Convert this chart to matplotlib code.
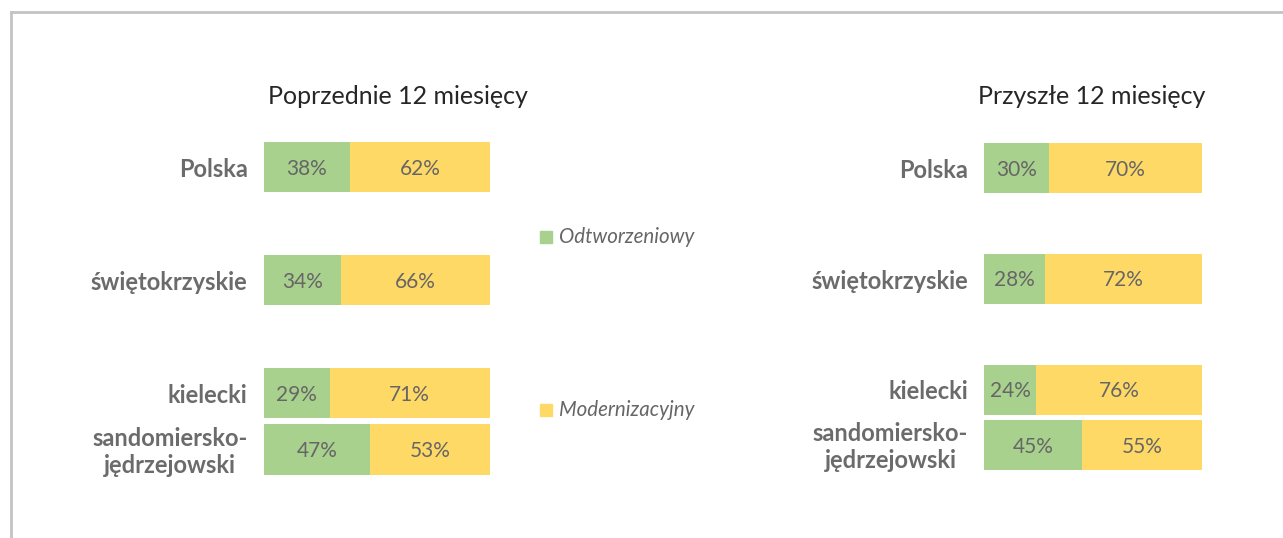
import matplotlib
matplotlib.use("Agg")
import matplotlib.pyplot as plt
from matplotlib.lines import Line2D
from matplotlib.patches import Rectangle

# ---- data ----
categories = ["Polska", "świętokrzyskie", "kielecki", "sandomiersko-\njędrzejowski"]
series_names = ["Odtworzeniowy", "Modernizacyjny"]
panel_titles = ["Poprzednie 12 miesięcy", "Przyszłe 12 miesięcy"]
prev_odtw = [38, 34, 29, 47]
prev_mod = [62, 66, 71, 53]
next_odtw = [30, 28, 24, 45]
next_mod = [70, 72, 76, 55]

GREEN = "#a9d18e"
YELLOW = "#ffd966"
LABEL_C = "#6b6b6b"
PCT_C = "#666666"

W, H = 1283, 538
fig = plt.figure(figsize=(W / 100, H / 100), dpi=100)
plt.rcParams['font.family'] = ['Lato', 'DejaVu Sans']

def fx(px):
    return px / W

def fy(py):
    return 1 - py / H

# frame lines (top and left)
fig.add_artist(Line2D([fx(11), fx(11)], [fy(12), fy(538)], color="#c3c3c3", lw=2, transform=fig.transFigure))
fig.add_artist(Line2D([fx(11), fx(1283)], [fy(12), fy(12)], color="#c3c3c3", lw=2, transform=fig.transFigure))

ypos = [0, 1, 2, 2.5]
bar_h = 0.45

def panel(x0, x1, c0, unit, odtw, mod, title, title_x):
    top = c0 - 0.5 * unit
    bot = c0 + 3.0 * unit
    ax = fig.add_axes([fx(x0), fy(bot), fx(x1 - x0), (bot - top) / H])
    ax.set_xlim(0, 100)
    ax.set_ylim(3.0, -0.5)
    ax.axis("off")
    ax.barh(ypos, odtw, height=bar_h, color=GREEN, edgecolor="none")
    ax.barh(ypos, mod, left=odtw, height=bar_h, color=YELLOW, edgecolor="none")
    for y, a, b, cat in zip(ypos, odtw, mod, categories):
        ax.text(a / 2, y + 0.015, f"{a}%", ha="center", va="center", fontsize=15, color=PCT_C)
        ax.text(a + b / 2, y + 0.015, f"{b}%", ha="center", va="center", fontsize=15, color=PCT_C)
        ax.text(-7.3, y + 0.02, cat, ha="right", va="center", fontsize=17, fontweight="bold",
                color=LABEL_C, multialignment="center", linespacing=1.2)
    fig.text(fx(title_x), fy(96), title, ha="center", va="center", fontsize=18,
             fontweight="normal", color="#262626")
    return ax

panel(264, 490, 167, 113, prev_odtw, prev_mod, panel_titles[0], 398)
panel(984, 1202, 168, 110.8, next_odtw, next_mod, panel_titles[1], 1092)

# legend
for name, col, py in zip(series_names, [GREEN, YELLOW], [237, 410]):
    fig.add_artist(Rectangle((fx(540), fy(py + 6)), fx(12), 12 / H, color=col,
                             transform=fig.transFigure))
    fig.text(fx(559), fy(py), name, ha="left", va="center", fontsize=14.8,
             style="italic", color="#666666")

fig.savefig("out.png", dpi=100)
